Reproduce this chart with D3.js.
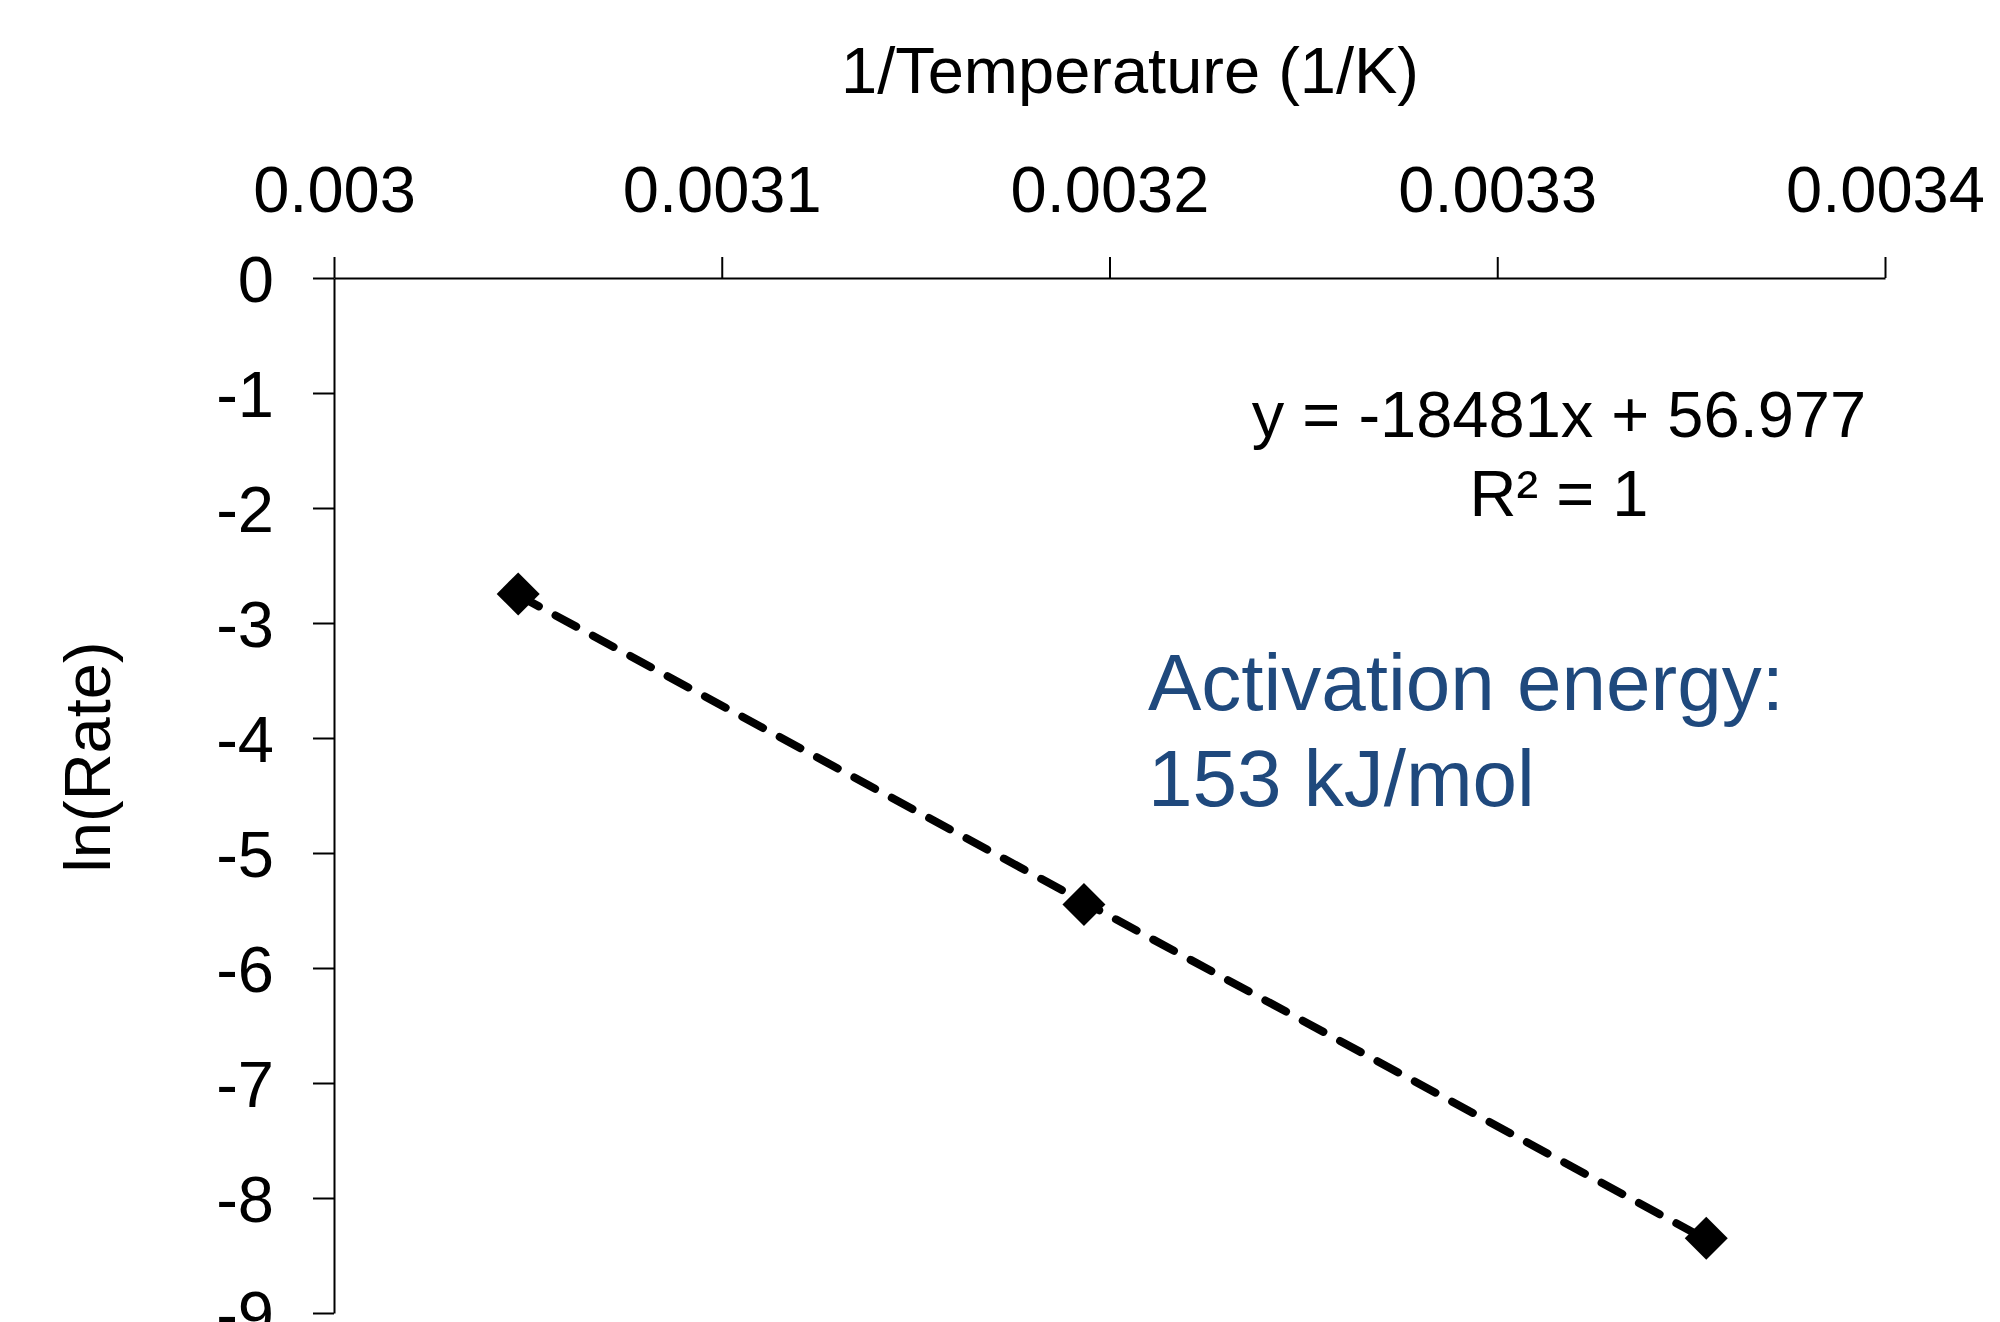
<!DOCTYPE html>
<html>
<head>
<meta charset="utf-8">
<script src="https://cdn.jsdelivr.net/npm/d3@7"></script>
<style>
    html, body { margin: 0; padding: 0; background: #fff; }
    svg { display: block; font-family: 'Liberation Sans', Arial, sans-serif; }
</style>
</head>
<body>
<svg id="chart" width="2000" height="1322"></svg>
<script>
// values
const invTemp = [0.0030475, 0.0031934, 0.0033539]
const lnRate = [-2.747, -5.447, -8.351]
const xTicks = [0.003, 0.0031, 0.0032, 0.0033, 0.0034]
const xTickLabels = ['0.003', '0.0031', '0.0032', '0.0033', '0.0034']
const yTicks = [0, -1, -2, -3, -4, -5, -6, -7, -8, -9]
const equationLines = ['y = -18481x + 56.977', 'R² = 1']
const noteLines = ['Activation energy:', '153 kJ/mol']

const FONT = 65
const BLUE = '#1F497D'

const svg = d3.select('#chart')

const x = d3.scaleLinear()
    .domain([0.003, 0.0034])
    .range([334, 1885])

const y = d3.scaleLinear()
    .domain([0, -9])
    .range([278, 1313])

// least squares fit for the trendline
const fit = (xs, ys) => {
    const mx = d3.mean(xs), my = d3.mean(ys)
    let sxy = 0, sxx = 0
    for (let i = 0; i < xs.length; i++) {
        sxy += (xs[i] - mx) * (ys[i] - my)
        sxx += (xs[i] - mx) * (xs[i] - mx)
    }
    const slope = sxy / sxx
    return { slope, intercept: my - slope * mx }
}

// axes
const xAxis = svg.append('g')
    .attr('transform', `translate(0,${y(0)})`)
    .call(d3.axisTop(x)
        .tickValues(xTicks)
        .tickFormat((d, i) => xTickLabels[i])
        .tickSize(21).tickSizeOuter(0).tickPadding(45))

const yAxis = svg.append('g')
    .attr('transform', `translate(${x(0.003)},0)`)
    .call(d3.axisLeft(y)
        .tickValues(yTicks)
        .tickFormat(d => String(d))
        .tickSize(21).tickSizeOuter(0).tickPadding(39))

;[xAxis, yAxis].forEach(g => {
    g.attr('font-size', null).attr('font-family', null)
    g.select('.domain').attr('stroke', '#000').attr('stroke-width', 2)
    g.selectAll('.tick line').attr('stroke', '#000').attr('stroke-width', 2)
    g.selectAll('.tick text').attr('fill', '#000').style('font-size', `${FONT}px`)
})
yAxis.selectAll('.tick text').attr('dy', '0.36em')

// markers
const points = invTemp.map((v, i) => [v, lnRate[i]])
const r = 21.5
svg.append('g')
    .selectAll('path')
    .data(points).enter()
    .append('path')
    .attr('d', d => {
        const cx = x(d[0]), cy = y(d[1])
        return `M${cx},${cy - r}L${cx + r},${cy}L${cx},${cy + r}L${cx - r},${cy}Z`
    })
    .attr('fill', '#000')

// trendline
const { slope, intercept } = fit(invTemp, lnRate)
const ends = d3.extent(invTemp)
svg.append('path')
    .datum(ends)
    .attr('d', d3.line()
        .x(v => x(v))
        .y(v => y(slope * v + intercept)))
    .attr('fill', 'none')
    .attr('stroke', '#000')
    .attr('stroke-width', 8)
    .attr('stroke-linecap', 'round')
    .attr('stroke-dasharray', '23.5,19')

// axis titles
svg.append('text')
    .attr('x', 1130).attr('y', 93)
    .attr('text-anchor', 'middle')
    .style('font-size', `${FONT}px`)
    .text('1/Temperature (1/K)')

svg.append('text')
    .attr('transform', 'translate(110,757) rotate(-90)')
    .attr('text-anchor', 'middle')
    .style('font-size', `${FONT}px`)
    .text('ln(Rate)')

// trendline equation
svg.append('g')
    .selectAll('text')
    .data(equationLines).enter()
    .append('text')
    .attr('x', 1559)
    .attr('y', (d, i) => 437 + i * 79)
    .attr('text-anchor', 'middle')
    .style('font-size', `${FONT}px`)
    .text(d => d)

// note
svg.append('g')
    .selectAll('text')
    .data(noteLines).enter()
    .append('text')
    .attr('x', 1148)
    .attr('y', (d, i) => 710 + i * 96)
    .attr('fill', BLUE)
    .style('font-size', '80px')
    .text(d => d)
</script>
</body>
</html>
